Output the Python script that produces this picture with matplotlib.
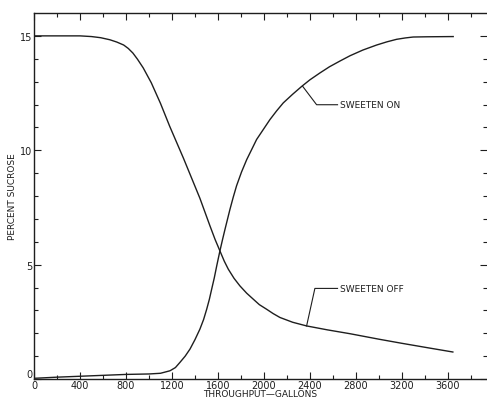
import numpy as np
import matplotlib
matplotlib.use("Agg")
import matplotlib.pyplot as plt

# curves (throughput in gallons, percent sucrose)
off_x = [0, 200, 400, 500, 580, 660, 720, 780, 820, 860, 900, 950, 1020, 1100,
         1180, 1300, 1443, 1530, 1575, 1617, 1655, 1690, 1740, 1791, 1850, 1907,
         1960, 2023, 2080, 2139, 2250, 2371, 2550, 2748, 3000, 3200, 3420, 3643]
off_y = [15.0, 15.0, 15.0, 14.97, 14.92, 14.83, 14.73, 14.6, 14.45, 14.25, 13.98,
         13.6, 12.95, 12.05, 11.05, 9.65, 7.9, 6.7, 6.1, 5.6, 5.15, 4.8, 4.4, 4.07,
         3.75, 3.49, 3.25, 3.05, 2.86, 2.69, 2.48, 2.32, 2.15, 1.98, 1.74, 1.56,
         1.37, 1.18]

on_x = [0, 200, 400, 600, 800, 1000, 1100, 1183, 1230, 1270, 1315, 1357, 1400,
        1443, 1475, 1502, 1525, 1545, 1568, 1589, 1617, 1640, 1661, 1704, 1733,
        1762, 1805, 1850, 1895, 1936, 2000, 2052, 2110, 2168, 2250, 2328, 2400,
        2487, 2570, 2661, 2748, 2860, 2980, 3070, 3154, 3230, 3298, 3415, 3646]
on_y = [0.03, 0.08, 0.12, 0.16, 0.2, 0.22, 0.25, 0.36, 0.5, 0.73, 1.0, 1.31, 1.72,
        2.18, 2.6, 3.05, 3.48, 3.92, 4.42, 4.94, 5.6, 6.1, 6.54, 7.41, 7.95, 8.45,
        9.05, 9.59, 10.05, 10.47, 10.95, 11.34, 11.72, 12.07, 12.45, 12.79, 13.08,
        13.38, 13.65, 13.9, 14.13, 14.38, 14.6, 14.74, 14.85, 14.91, 14.95,
        14.96, 14.97]

x_ticks = [0, 400, 800, 1200, 1600, 2000, 2400, 2800, 3200, 3600]
y_ticks = [0, 5, 10, 15]

# leader lines: point on curve, elbow, label start
on_note = [(2336, 12.8), (2458, 11.99), (2640, 11.99)]
off_note = [(2371, 2.32), (2443, 3.96), (2640, 3.96)]

INK = "#1e1e1e"

fig = plt.figure(figsize=(4.87, 4.02), dpi=100)
ax = fig.add_axes([34 / 487, 22 / 402, 1 - 34 / 487, (380 - 14) / 402])

ax.plot(off_x, off_y, color=INK, lw=1.0)
ax.plot(on_x, on_y, color=INK, lw=1.0)

for pts, txt in [(on_note, "SWEETEN ON"), (off_note, "SWEETEN OFF")]:
    xs, ys = zip(*pts)
    ax.plot(xs, ys, color=INK, lw=0.8)
    ax.text(xs[-1] + 20, ys[-1], txt, fontsize=6.5, color=INK, va="center", ha="left")

ax.set_xlim(0, 3940)
ax.set_ylim(0, 16)
ax.set_xticks(x_ticks)
ax.set_xticks(np.arange(200, 3900, 400), minor=True)
ax.set_yticks(y_ticks)
ax.set_yticks([v for v in range(1, 16) if v % 5], minor=True)

ax.spines["right"].set_visible(False)
for s in ["left", "top", "bottom"]:
    ax.spines[s].set_color(INK)
    ax.spines[s].set_linewidth(1.0)

ax.tick_params(which="both", direction="in", top=True, right=True, colors=INK,
               labelsize=7, pad=1)
ax.tick_params(which="major", length=5, width=0.8)
ax.tick_params(which="minor", length=3, width=0.8)

# lift the y "0" a little so it doesn't sit on the x "0"
ax.get_yticklabels()[0].set_verticalalignment("bottom")

ax.set_xlabel("THROUGHPUT—GALLONS", fontsize=6.5, color=INK, labelpad=-1)
ax.set_ylabel("PERCENT SUCROSE", fontsize=6.5, color=INK, labelpad=2)

fig.savefig("out.png", dpi=100)
